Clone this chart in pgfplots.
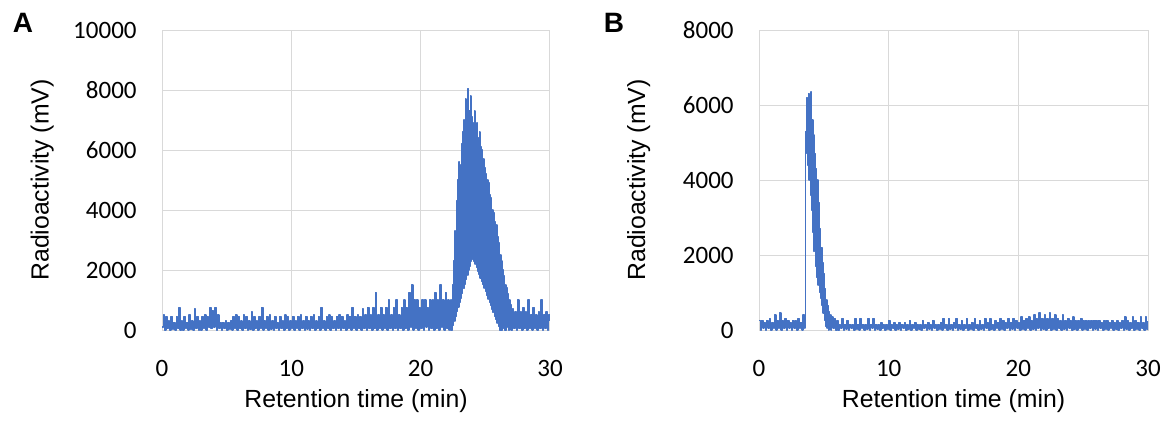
\documentclass[border=0pt]{standalone}
\usepackage{pgfplots}
\pgfplotsset{compat=1.18}
\usepackage{fontspec}
\setmainfont{Liberation Sans}
\newfontfamily\tickfont{Carlito}
\definecolor{xlblue}{RGB}{68,114,196}
\definecolor{gridgray}{RGB}{217,217,217}
\pgfplotsset{rchart/.style={
  scale only axis, height=150pt,
  xmin=0,xmax=30, ymin=0,
  xtick={0,10,20,30},
  grid=major, grid style={draw=gridgray, line width=0.5pt},
  axis line style={draw=gridgray, line width=0.5pt},
  major tick length=0pt,
  scaled y ticks=false,
  /pgf/number format/assume math mode=true,
  /pgf/number format/1000 sep={},
  tick label style={font=\tickfont\fontsize{12.5}{15}\selectfont, inner sep=0pt},
  xticklabel style={anchor=center, yshift=-19pt},
  yticklabel style={anchor=east, xshift=-12.5pt},
  label style={font=\fontsize{12.4}{15}\selectfont, inner sep=0pt},
  xlabel={Retention time (min)},
  ylabel={Radioactivity (mV)},
  xlabel style={at={(axis description cs:0.5,0)}, anchor=center, yshift=-35.5pt},
  ylabel style={at={(axis description cs:-0.309,0.5)}, anchor=center},
  cycle list={{xlblue, mark=none}},
  anchor=south west,
}}
\begin{document}
\begin{tikzpicture}
\useasboundingbox (0,0) rectangle (588pt,210pt);
\begin{axis}[rchart, at={(81pt,45pt)}, width=194pt, ymax=10000, ytick={0,2000,4000,6000,8000,10000}]
\addplot+[const plot, line width=0.7pt, line join=miter, miter limit=1] table {
x y
0.0 100
0.1 500
0.2 0
0.3 450
0.4 50
0.5 300
0.6 0
0.7 450
0.8 30
0.9 250
1.0 0
1.1 450
1.2 50
1.3 750
1.4 0
1.5 300
1.6 0
1.7 450
1.8 50
1.9 250
2.0 0
2.1 500
2.2 20
2.3 300
2.4 0
2.5 700
2.6 50
2.7 450
2.8 0
2.9 300
3.0 0
3.1 450
3.2 50
3.3 500
3.4 0
3.5 450
3.6 100
3.7 750
3.8 50
3.9 650
4.0 100
4.1 750
4.2 0
4.3 500
4.4 50
4.5 250
4.6 0
4.7 250
4.8 50
4.9 300
5.0 0
5.1 250
5.2 30
5.3 300
5.4 0
5.5 450
5.6 50
5.7 500
5.8 0
5.9 450
6.0 50
6.1 300
6.2 0
6.3 500
6.4 50
6.5 450
6.6 0
6.7 300
6.8 20
6.9 600
7.0 0
7.1 450
7.2 50
7.3 300
7.4 0
7.5 450
7.6 50
7.7 750
7.8 0
7.9 300
8.0 50
8.1 450
8.2 0
8.3 500
8.4 30
8.5 300
8.6 0
8.7 450
8.8 50
8.9 250
9.0 0
9.1 450
9.2 50
9.3 300
9.4 0
9.5 500
9.6 50
9.7 450
9.8 0
9.9 300
10.0 50
10.1 450
10.2 0
10.3 300
10.4 50
10.5 450
10.6 0
10.7 500
10.8 50
10.9 300
11.0 0
11.1 450
11.2 30
11.3 300
11.4 0
11.5 450
11.6 50
11.7 500
11.8 0
11.9 300
12.0 50
12.1 450
12.2 0
12.3 750
12.4 50
12.5 300
12.6 0
12.7 450
12.8 50
12.9 500
13.0 0
13.1 450
13.2 50
13.3 300
13.4 0
13.5 450
13.6 50
13.7 500
13.8 0
13.9 450
14.0 50
14.1 300
14.2 0
14.3 500
14.4 50
14.5 450
14.6 0
14.7 750
14.8 50
14.9 450
15.0 0
15.1 500
15.2 50
15.3 450
15.4 0
15.5 700
15.6 50
15.7 500
15.8 0
15.9 750
16.0 50
16.1 500
16.2 0
16.3 750
16.4 50
16.5 1250
16.6 0
16.7 500
16.8 50
16.9 750
17.0 0
17.1 500
17.2 50
17.3 750
17.4 0
17.5 1000
17.6 50
17.7 500
17.8 0
17.9 750
18.0 50
18.1 1000
18.2 0
18.3 500
18.4 50
18.5 750
18.6 0
18.7 1000
18.8 50
18.9 750
19.0 0
19.1 1250
19.2 100
19.3 1500
19.4 0
19.5 1000
19.6 50
19.7 1000
19.8 0
19.9 750
20.0 50
20.1 1000
20.2 0
20.3 1000
20.4 100
20.5 750
20.6 0
20.7 1000
20.8 50
20.9 1000
21.0 0
21.1 1250
21.2 50
21.3 1000
21.4 0
21.5 1500
21.6 100
21.7 1000
21.8 0
21.9 1250
22.0 50
22.1 1000
22.2 0
22.25 800
22.30 0
22.35 1000
22.40 0
22.45 1500
22.50 150
22.55 2300
22.60 300
22.65 3300
22.70 460
22.75 4300
22.80 610
22.85 5000
22.90 770
22.95 5600
23.00 920
23.05 5500
23.10 1070
23.15 6200
23.20 1220
23.25 6600
23.30 1380
23.35 7000
23.40 1530
23.45 7700
23.50 1680
23.55 7100
23.60 1840
23.65 8050
23.70 2000
23.75 7300
23.80 2140
23.85 7800
23.90 2300
23.95 7100
24.00 2350
24.05 6900
24.10 2300
24.15 7300
24.20 2200
24.25 6700
24.30 2080
24.35 6900
24.40 1970
24.45 6400
24.50 1850
24.55 6600
24.60 1740
24.65 6100
24.70 1620
24.75 6000
24.80 1510
24.85 5700
24.90 1400
24.95 5400
25.00 1280
25.05 5200
25.10 1160
25.15 5000
25.20 1040
25.25 4900
25.30 920
25.35 4500
25.40 810
25.45 4400
25.50 700
25.55 4000
25.60 580
25.65 3900
25.70 460
25.75 3600
25.80 350
25.85 3500
25.90 230
25.95 3100
26.00 120
26.05 2900
26.10 0
26.15 2500
26.20 0
26.25 2300
26.30 0
26.35 2000
26.40 50
26.45 1800
26.50 0
26.55 1500
26.60 0
26.65 1400
26.70 100
26.75 1200
26.80 0
26.85 1000
26.90 50
26.95 850
27.00 0
27.1 700
27.2 50
27.3 600
27.4 0
27.5 1000
27.6 50
27.7 600
27.8 0
27.9 750
28.0 50
28.1 600
28.2 0
28.3 1000
28.4 50
28.5 500
28.6 0
28.7 750
28.8 50
28.9 500
29.0 0
29.1 600
29.2 50
29.3 1000
29.4 0
29.5 500
29.6 50
29.7 600
29.8 0
29.9 500
30.0 300
};
\end{axis}
\begin{axis}[rchart, at={(379.5pt,45pt)}, width=194.5pt, ymax=8000, ytick={0,2000,4000,6000,8000}]
\addplot+[const plot, line width=0.7pt, line join=miter, miter limit=1] table {
x y
0.0 250
0.1 0
0.2 250
0.3 50
0.4 200
0.5 0
0.6 250
0.7 50
0.8 300
0.9 0
1.0 200
1.1 50
1.2 400
1.3 0
1.4 250
1.5 50
1.6 450
1.7 0
1.8 250
1.9 50
2.0 300
2.1 0
2.2 250
2.3 50
2.4 200
2.5 0
2.6 250
2.7 50
2.8 250
2.9 0
3.0 300
3.1 50
3.2 200
3.3 0
3.4 400
3.5 50
3.55 100
3.60 5300
3.65 4700
3.70 6200
3.75 4400
3.80 6300
3.85 4000
3.90 6000
3.95 3600
4.00 6350
4.05 3200
4.10 5600
4.15 2600
4.20 5200
4.25 2100
4.30 4700
4.35 1700
4.40 4300
4.45 1400
4.50 4000
4.55 1200
4.60 3400
4.65 1000
4.70 2700
4.75 850
4.80 2200
4.85 650
4.90 1800
4.95 450
5.00 1500
5.05 250
5.10 1100
5.15 100
5.20 800
5.25 50
5.30 650
5.35 0
5.40 500
5.45 50
5.50 400
5.55 0
5.60 350
5.70 50
5.80 300
5.90 0
6.0 250
6.1 0
6.2 150
6.3 50
6.4 300
6.5 0
6.6 150
6.7 30
6.8 250
6.9 0
7.0 150
7.1 50
7.2 150
7.3 0
7.4 300
7.5 30
7.6 150
7.7 0
7.8 300
7.9 50
8.0 150
8.1 0
8.2 150
8.3 30
8.4 300
8.5 0
8.6 150
8.7 50
8.8 300
8.9 0
9.0 150
9.1 30
9.2 150
9.3 0
9.4 200
9.5 50
9.6 150
9.7 0
9.8 150
9.9 30
10.0 250
10.1 0
10.2 150
10.3 50
10.4 200
10.5 0
10.6 150
10.7 30
10.8 200
10.9 0
11.0 150
11.1 50
11.2 200
11.3 0
11.4 150
11.5 30
11.6 250
11.7 0
11.8 150
11.9 50
12.0 200
12.1 0
12.2 150
12.3 30
12.4 150
12.5 0
12.6 250
12.7 50
12.8 150
12.9 0
13.0 200
13.1 30
13.2 150
13.3 0
13.4 250
13.5 50
13.6 150
13.7 0
13.8 150
13.9 30
14.0 200
14.1 0
14.2 300
14.3 50
14.4 150
14.5 0
14.6 300
14.7 30
14.8 150
14.9 0
15.0 200
15.1 50
15.2 300
15.3 0
15.4 150
15.5 30
15.6 250
15.7 0
15.8 150
15.9 50
16.0 300
16.1 0
16.2 150
16.3 30
16.4 200
16.5 0
16.6 300
16.7 50
16.8 150
16.9 0
17.0 250
17.1 30
17.2 150
17.3 0
17.4 300
17.5 50
17.6 200
17.7 0
17.8 300
17.9 30
18.0 150
18.1 0
18.2 250
18.3 50
18.4 200
18.5 0
18.6 300
18.7 30
18.8 250
18.9 0
19.0 200
19.1 50
19.2 300
19.3 0
19.4 200
19.5 30
19.6 300
19.7 0
19.8 250
19.9 50
20.0 200
20.1 0
20.2 350
20.3 30
20.4 250
20.5 0
20.6 300
20.7 50
20.8 350
20.9 0
21.0 250
21.1 30
21.2 400
21.3 0
21.4 300
21.5 50
21.6 450
21.7 0
21.8 300
21.9 30
22.0 400
22.1 0
22.2 300
22.3 50
22.4 450
22.5 0
22.6 300
22.7 30
22.8 400
22.9 0
23.0 300
23.1 50
23.2 250
23.3 0
23.4 400
23.5 30
23.6 250
23.7 0
23.8 300
23.9 50
24.0 250
24.1 0
24.2 350
24.3 30
24.4 250
24.5 0
24.6 250
24.7 50
24.8 300
24.9 0
25.0 250
25.1 30
25.2 250
25.3 0
25.4 250
25.5 50
25.6 250
25.7 0
25.8 250
25.9 30
26.0 250
26.1 0
26.2 250
26.3 50
26.4 200
26.5 0
26.6 250
26.7 30
26.8 250
26.9 0
27.0 200
27.1 50
27.2 250
27.3 0
27.4 200
27.5 30
27.6 250
27.7 0
27.8 200
27.9 50
28.0 250
28.1 0
28.2 350
28.3 30
28.4 250
28.5 0
28.6 200
28.7 50
28.8 350
28.9 0
29.0 250
29.1 30
29.2 200
29.3 0
29.4 350
29.5 50
29.6 200
29.7 0
29.8 350
29.9 30
30.0 250
};
\end{axis}
\node[font=\bfseries\fontsize{14}{16}\selectfont] at (11.5pt,198.5pt) {A};
\node[font=\bfseries\fontsize{14}{16}\selectfont] at (307pt,198.5pt) {B};
\end{tikzpicture}
\end{document}
